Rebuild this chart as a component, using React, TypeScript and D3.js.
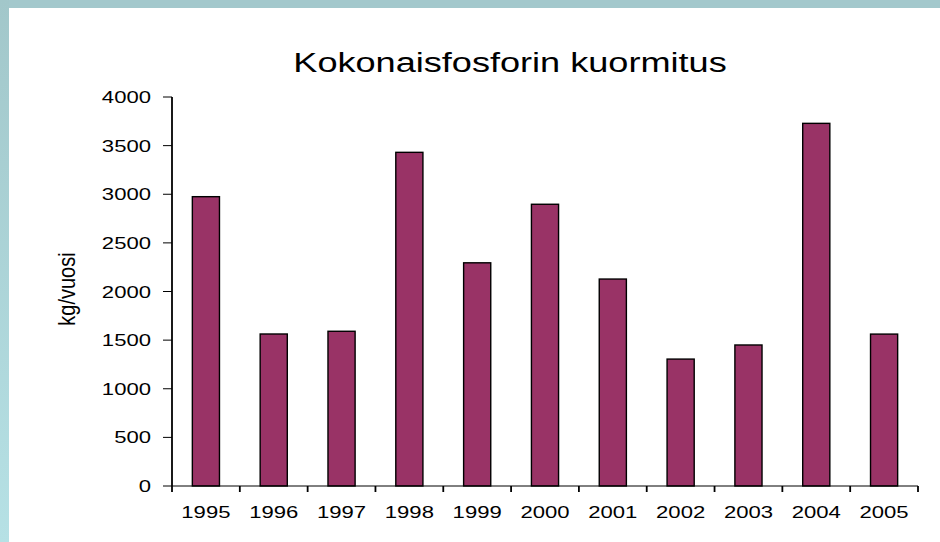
import React, { useEffect, useRef } from "react";
import * as d3 from "d3";

const years = ["1995", "1996", "1997", "1998", "1999", "2000", "2001", "2002", "2003", "2004", "2005"];
const loads = [2975, 1563, 1591, 3431, 2295, 2897, 2128, 1305, 1450, 3729, 1562];
const yTicks = [0, 500, 1000, 1500, 2000, 2500, 3000, 3500, 4000];

const W = 940;
const H = 542;
const FONT = "'Liberation Sans', Arial, sans-serif";
// the source picture is stretched sideways, so text is widened to match
const SX = 1.3;

const App: React.FC = () => {
  const svgRef = useRef<SVGSVGElement | null>(null);

  useEffect(() => {
    if (!svgRef.current) return;
    const svg = d3.select(svgRef.current);
    svg.selectAll("*").remove();

    // frame
    const defs = svg.append("defs");
    const grad = defs.append("linearGradient")
      .attr("id", "side-grad")
      .attr("x1", "0%").attr("y1", "0%")
      .attr("x2", "0%").attr("y2", "100%");
    grad.append("stop").attr("offset", "0%").attr("stop-color", "#a2c7ca");
    grad.append("stop").attr("offset", "100%").attr("stop-color", "#b6e1e5");

    svg.append("rect").attr("width", W).attr("height", H).attr("fill", "#fff");
    svg.append("rect").attr("width", W).attr("height", 8).attr("fill", "#a3c8cc");
    svg.append("rect").attr("y", 0).attr("width", 9).attr("height", H).attr("fill", "url(#side-grad)");

    const left = 172, right = 918, top = 97, bottom = 486;

    const x = d3.scaleBand().domain(years).range([left, right]).padding(0);
    const y = d3.scaleLinear().domain([0, 4000]).range([bottom, top]);
    const barW = x.bandwidth() * 0.4;

    // bars
    svg.append("g")
      .selectAll("rect")
      .data(years)
      .enter()
      .append("rect")
      .attr("x", d => (x(d) ?? 0) + (x.bandwidth() - barW) / 2)
      .attr("y", (d, i) => y(loads[i]))
      .attr("width", barW)
      .attr("height", (d, i) => bottom - y(loads[i]))
      .attr("fill", "#993366")
      .attr("stroke", "#000")
      .attr("stroke-width", 1.4);

    // y axis
    const ya = svg.append("g");
    ya.append("line")
      .attr("x1", left).attr("x2", left)
      .attr("y1", top).attr("y2", bottom)
      .attr("stroke", "#000").attr("stroke-width", 1.8);
    ya.selectAll("line.tick")
      .data(yTicks)
      .enter()
      .append("line")
      .attr("class", "tick")
      .attr("x1", left - 9).attr("x2", left)
      .attr("y1", d => y(d)).attr("y2", d => y(d))
      .attr("stroke", "#000").attr("stroke-width", 1);
    ya.selectAll("text")
      .data(yTicks)
      .enter()
      .append("text")
      .attr("transform", d => `translate(${left - 21},${y(d) + 6}) scale(${SX},1)`)
      .attr("text-anchor", "end")
      .attr("font-family", FONT)
      .attr("font-size", 17)
      .attr("fill", "#000")
      .text(d => String(d));

    // x axis
    const xa = svg.append("g");
    xa.append("line")
      .attr("x1", left).attr("x2", right)
      .attr("y1", bottom).attr("y2", bottom)
      .attr("stroke", "#000").attr("stroke-width", 1);
    const edges = years.map(d => x(d) ?? 0).concat([right]);
    xa.selectAll("line.tick")
      .data(edges)
      .enter()
      .append("line")
      .attr("class", "tick")
      .attr("x1", d => d).attr("x2", d => d)
      .attr("y1", bottom).attr("y2", bottom + 6)
      .attr("stroke", "#000").attr("stroke-width", 1.8);
    xa.selectAll("text")
      .data(years)
      .enter()
      .append("text")
      .attr("transform", d => `translate(${(x(d) ?? 0) + x.bandwidth() / 2},${518}) scale(${SX},1)`)
      .attr("text-anchor", "middle")
      .attr("font-family", FONT)
      .attr("font-size", 17)
      .attr("fill", "#000")
      .text(d => d);

    // title
    svg.append("text")
      .attr("transform", `translate(510,72) scale(1.29,1)`)
      .attr("text-anchor", "middle")
      .attr("font-family", FONT)
      .attr("font-size", 28)
      .attr("fill", "#000")
      .text("Kokonaisfosforin kuormitus");

    // y label
    svg.append("text")
      .attr("transform", `translate(75,289) scale(1.2,1) rotate(-90)`)
      .attr("text-anchor", "middle")
      .attr("font-family", FONT)
      .attr("font-size", 20)
      .attr("fill", "#000")
      .text("kg/vuosi");
  }, []);

  return (
    <svg
      ref={svgRef}
      width={W}
      height={H}
      style={{ position: "absolute", left: 0, top: 0, display: "block" }}
    />
  );
};

export default App;
